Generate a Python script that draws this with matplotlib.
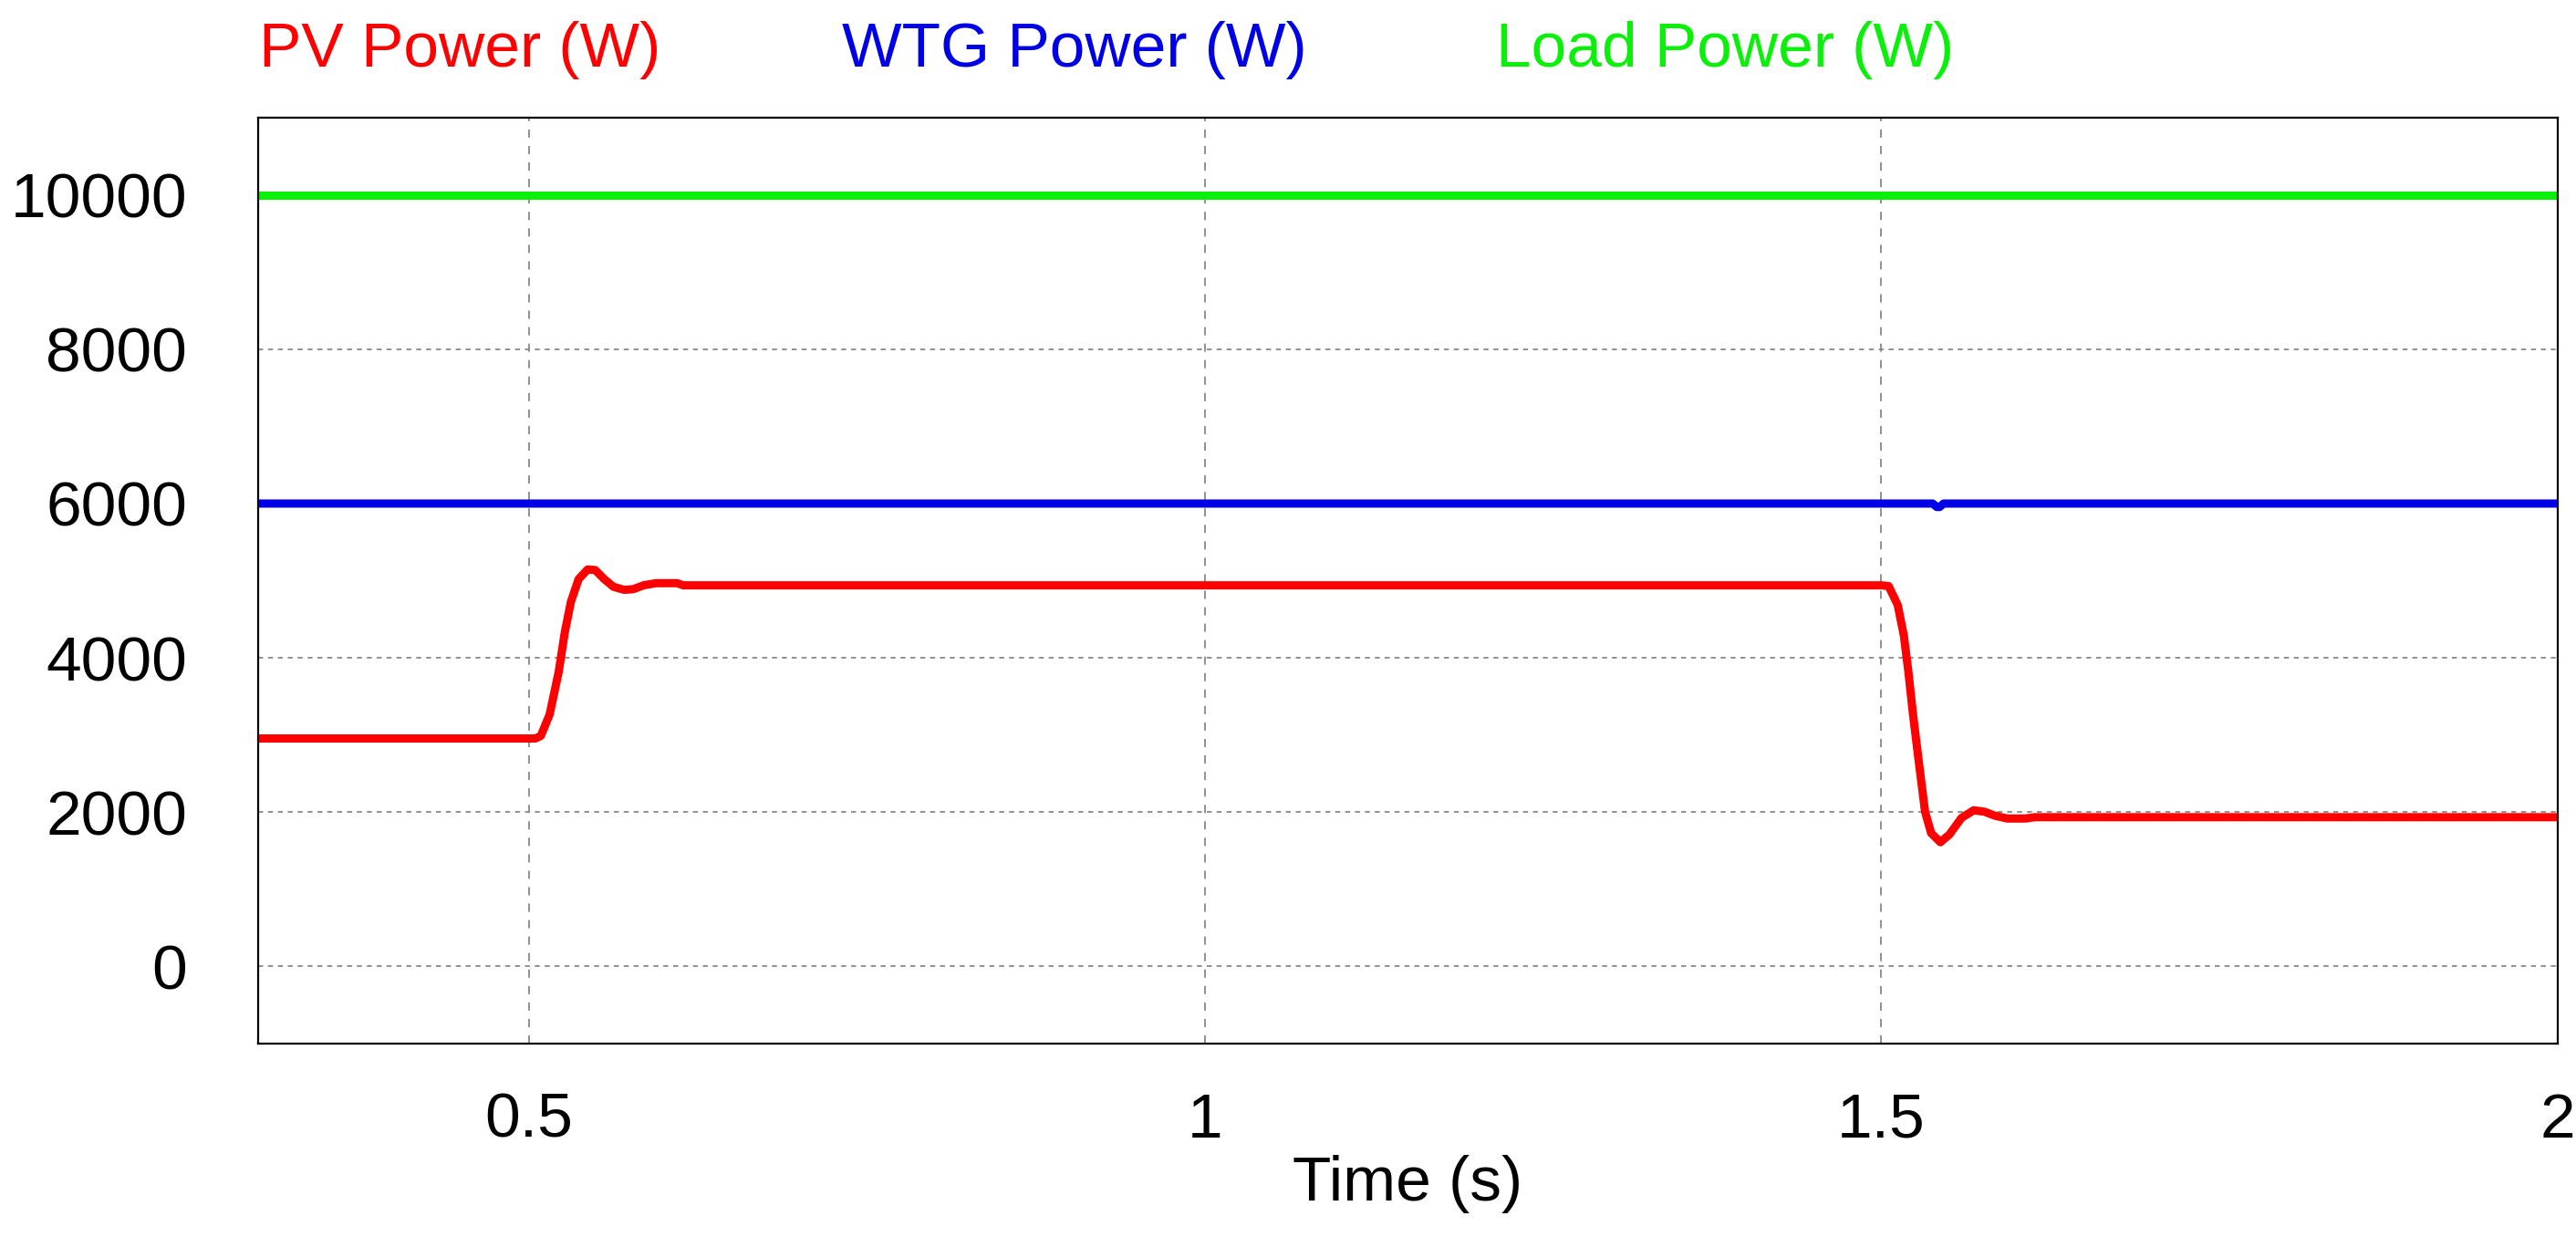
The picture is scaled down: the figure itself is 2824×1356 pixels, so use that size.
import matplotlib.pyplot as plt
import numpy as np

plt.rcParams['font.family'] = ['Liberation Sans', 'DejaVu Sans']

# PV power trace (s, W)
pv_t = [0.3, 0.505, 0.509, 0.5155, 0.5222, 0.5267, 0.5312, 0.5369, 0.5436, 0.5492,
        0.5559, 0.5627, 0.5705, 0.5773, 0.5851, 0.5941, 0.6098, 0.6143,
        1.5, 1.5054, 1.5121, 1.5166, 1.52, 1.5234, 1.5278, 1.5323, 1.5368, 1.5436,
        1.5503, 1.5593, 1.5683, 1.5762, 1.584, 1.593, 1.6065, 1.6133, 2.0]
pv_p = [2955, 2955, 2990, 3266, 3818, 4330, 4724, 5020, 5146, 5138,
        5020, 4921, 4882, 4890, 4941, 4968, 4968, 4940,
        4940, 4930, 4684, 4291, 3818, 3266, 2636, 2006, 1729, 1611,
        1710, 1927, 2025, 2006, 1954, 1918, 1918, 1935, 1935]

# WTG power trace
wtg_t = [0.3, 1.538, 1.541, 1.543, 1.546, 2.0]
wtg_p = [6000, 6000, 5955, 5955, 6000, 6000]

# Load power
load_t = [0.3, 2.0]
load_p = [10000, 10000]

fig = plt.figure(figsize=(28.24, 13.56), dpi=100)
ax = fig.add_axes([0.1002, 0.1563, 0.8927, 0.7485])

ax.plot(load_t, load_p, color='#0af00a', linewidth=6.5)
ax.plot(wtg_t, wtg_p, color='#0000e6', linewidth=6.5)
ax.plot(pv_t, pv_p, color='#ff0000', linewidth=6.5, solid_joinstyle='round')

ax.set_xlim(0.3, 2.0)
ax.set_ylim(-1000, 11000)
ax.set_xticks([0.5, 1, 1.5, 2])
ax.set_xticklabels(['0.5', '1', '1.5', '2'])
ax.set_yticks(np.arange(0, 10001, 2000))
ax.tick_params(axis='both', length=0, labelsize=50)
ax.tick_params(axis='x', pad=38)
ax.tick_params(axis='y', pad=56)

ax.xaxis.grid(True, color='#888888', linestyle=(0, (5, 5)), linewidth=1.3)
ax.yaxis.grid(True, color='#888888', linestyle=(0, (3, 3)), linewidth=1.3)
for s in ax.spines.values():
    s.set_linewidth(1.6)
    s.set_color('black')

ax.set_xlabel('Time (s)', fontsize=50, labelpad=4)

fig.text(284 / 2824, 1 - 73 / 1356, 'PV Power (W)', color='#ff0000', fontsize=50, va='baseline')
fig.text(923 / 2824, 1 - 73 / 1356, 'WTG Power (W)', color='#0000e6', fontsize=50, va='baseline')
fig.text(1640 / 2824, 1 - 73 / 1356, 'Load Power (W)', color='#0af00a', fontsize=50, va='baseline')

plt.savefig('out.png', dpi=100)
